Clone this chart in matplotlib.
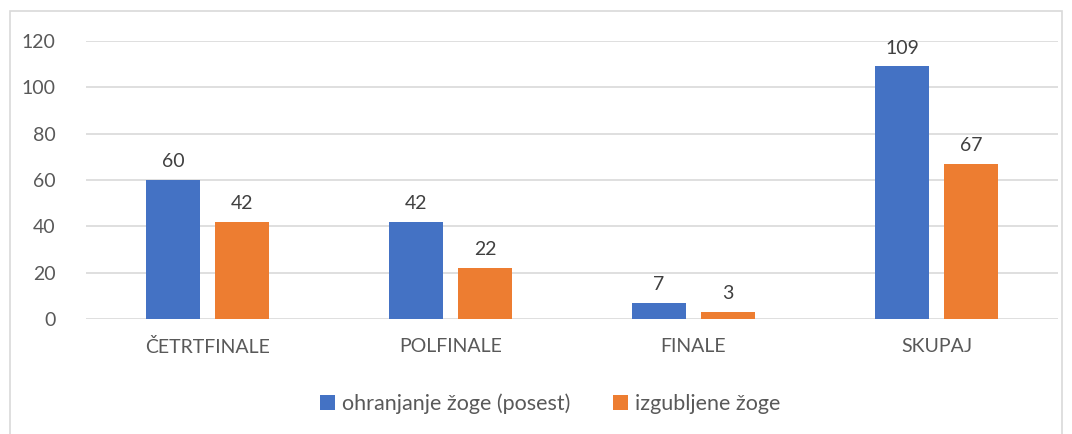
import matplotlib
matplotlib.use("Agg")
import matplotlib.pyplot as plt
import numpy as np
from matplotlib.patches import Rectangle

categories = ["ČETRTFINALE", "POLFINALE", "FINALE", "SKUPAJ"]
series_names = ["ohranjanje žoge (posest)", "izgubljene žoge"]
possession = [60, 42, 7, 109]
lost = [42, 22, 3, 67]
yticks = [0, 20, 40, 60, 80, 100, 120]

blue = "#4472C4"
orange = "#ED7D31"
text_col = "#595959"
grid_col = "#D9D9D9"

plt.rcParams["font.family"] = ["Lato", "DejaVu Sans"]

W, H = 1072, 434
fig = plt.figure(figsize=(W / 100, H / 100), dpi=100)
ax = fig.add_axes([86 / W, 1 - 319 / H, (1058 - 86) / W, (319 - 41) / H])

x = np.arange(len(categories))
bw = 0.222
gap = 0.062
off = (bw + gap) / 2
b1 = ax.bar(x - off, possession, bw, color=blue, label=series_names[0], zorder=3)
b2 = ax.bar(x + off, lost, bw, color=orange, label=series_names[1], zorder=3)

for bars, vals in ((b1, possession), (b2, lost)):
    for rect, v in zip(bars, vals):
        ax.annotate(str(v), (rect.get_x() + rect.get_width() / 2, v),
                    xytext=(0, 7), textcoords="offset points",
                    ha="center", va="bottom", fontsize=14, color="#404040")

ax.set_xlim(-0.5, len(categories) - 0.5)
ax.set_ylim(0, 120)
ax.set_yticks(yticks)
ax.set_yticklabels([str(t) for t in yticks], fontsize=14, color=text_col)
ax.set_xticks(x)
ax.set_xticklabels(categories, fontsize=14, color=text_col)
ax.tick_params(axis="both", length=0)
ax.tick_params(axis="y", pad=22)
ax.tick_params(axis="x", pad=14)
ax.grid(axis="y", color=grid_col, linewidth=1.2, zorder=0)
for s in ax.spines.values():
    s.set_visible(False)

leg = fig.legend(handles=[b1, b2], labels=series_names, loc="center",
                 bbox_to_anchor=(550 / W, 1 - 404 / H), ncol=2, frameon=False,
                 fontsize=15.5, handlelength=0.7, handleheight=0.7,
                 handletextpad=0.3, columnspacing=2.0)
for t in leg.get_texts():
    t.set_color(text_col)

fig.patches.append(Rectangle((10 / W, -0.05), (1062 - 10) / W, 1 - 11 / H + 0.05,
                             transform=fig.transFigure, fill=False,
                             edgecolor=grid_col, linewidth=1.2))

fig.savefig("out.png", dpi=100)
